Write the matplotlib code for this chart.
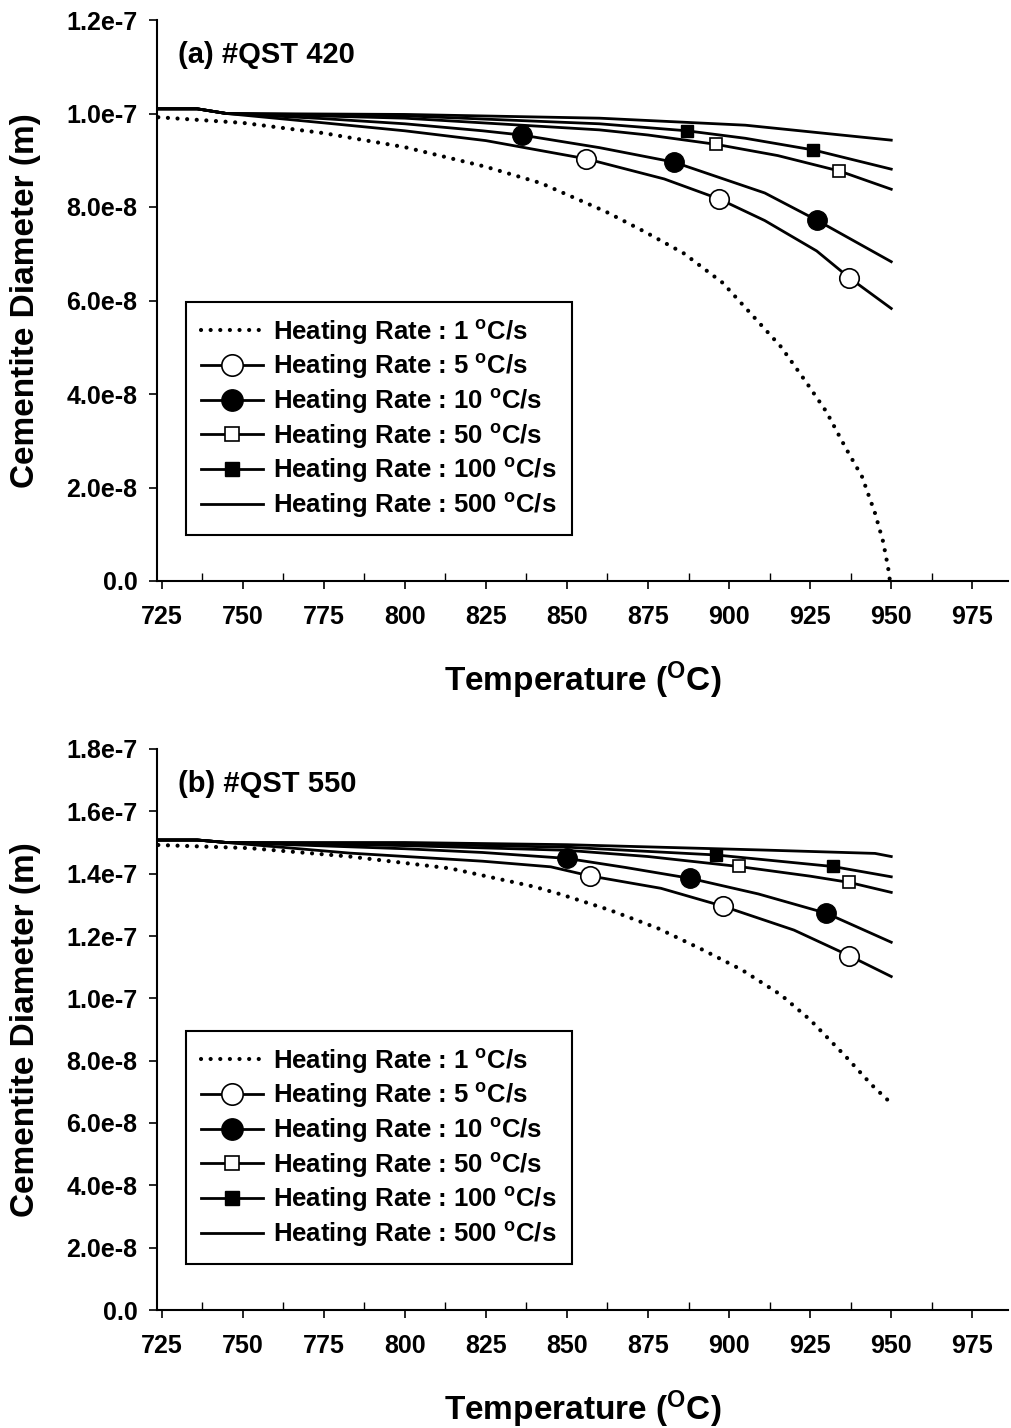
import numpy as np
import matplotlib
matplotlib.use("Agg")
import matplotlib.pyplot as plt
from matplotlib.ticker import MultipleLocator

plt.rcParams['font.family'] = ['Liberation Sans', 'DejaVu Sans']
plt.rcParams['font.weight'] = 'bold'
plt.rcParams['axes.labelweight'] = 'bold'
plt.rcParams['mathtext.default'] = 'regular'

# ---- data (diameter values in units of 1e-8 m) ----
# (a) QST 420
a_T1 = [724, 750, 775, 800, 825, 842, 862, 874, 886, 898, 908, 916, 924, 930, 936, 941, 945, 947.5, 949, 949.6]
a_V1 = [9.92, 9.80, 9.58, 9.28, 8.86, 8.51, 7.90, 7.47, 7.01, 6.38, 5.62, 5.01, 4.23, 3.62, 2.84, 2.23, 1.45, 0.84, 0.30, 0.0]
a_T5 = [724, 736, 745, 775, 800, 825, 856, 880, 897, 911, 927, 937, 950]
a_V5 = [10.10, 10.10, 10.0, 9.80, 9.63, 9.42, 9.03, 8.60, 8.17, 7.71, 7.06, 6.49, 5.83]
a_T10 = [724, 736, 745, 775, 800, 824, 836, 860, 883, 911, 927, 950]
a_V10 = [10.10, 10.10, 10.0, 9.89, 9.78, 9.63, 9.54, 9.27, 8.96, 8.30, 7.72, 6.83]
a_T50 = [724, 736, 745, 800, 860, 875, 896, 915, 934, 950]
a_V50 = [10.10, 10.10, 10.0, 9.90, 9.65, 9.54, 9.34, 9.10, 8.77, 8.38]
a_T100 = [724, 736, 745, 800, 860, 887, 905, 926, 950]
a_V100 = [10.10, 10.10, 10.0, 9.95, 9.78, 9.63, 9.47, 9.22, 8.81]
a_T500 = [724, 736, 745, 800, 860, 905, 950]
a_V500 = [10.10, 10.10, 10.0, 9.98, 9.90, 9.75, 9.43]
a_marks = {5: [6, 8, 11], 10: [6, 8, 10], 50: [6, 8], 100: [5, 7]}

# (b) QST 550
b_T1 = [724, 752, 783, 814, 840, 848, 863, 878, 892, 904, 916, 925, 936, 944, 950]
b_V1 = [14.92, 14.82, 14.55, 14.17, 13.58, 13.34, 12.84, 12.25, 11.55, 10.91, 10.11, 9.31, 8.13, 7.22, 6.63]
b_T5 = [724, 736, 745, 783, 824, 845, 857, 879, 898, 920, 937, 950]
b_V5 = [15.08, 15.08, 15.0, 14.66, 14.40, 14.22, 13.93, 13.53, 12.96, 12.19, 11.37, 10.70]
b_T10 = [724, 736, 745, 800, 824, 850, 868, 888, 909, 930, 950]
b_V10 = [15.08, 15.08, 15.0, 14.80, 14.68, 14.49, 14.20, 13.85, 13.35, 12.73, 11.80]
b_T50 = [724, 736, 745, 800, 850, 875, 903, 925, 937, 950]
b_V50 = [15.08, 15.08, 15.0, 14.90, 14.75, 14.55, 14.23, 13.92, 13.72, 13.40]
b_T100 = [724, 736, 745, 800, 850, 896, 932, 950]
b_V100 = [15.08, 15.08, 15.0, 14.95, 14.85, 14.60, 14.23, 13.90]
b_T500 = [724, 736, 745, 800, 850, 910, 945, 950]
b_V500 = [15.08, 15.08, 15.0, 15.0, 14.93, 14.76, 14.65, 14.55]
b_marks = {5: [6, 8, 10], 10: [5, 7, 9], 50: [6, 8], 100: [5, 6]}

x_ticks = [725, 750, 775, 800, 825, 850, 875, 900, 925, 950, 975]
a_yticks = [0, 2e-8, 4e-8, 6e-8, 8e-8, 1e-7, 1.2e-7]
a_ylabels = ['0.0', '2.0e-8', '4.0e-8', '6.0e-8', '8.0e-8', '1.0e-7', '1.2e-7']
b_yticks = [0, 2e-8, 4e-8, 6e-8, 8e-8, 1e-7, 1.2e-7, 1.4e-7, 1.6e-7, 1.8e-7]
b_ylabels = ['0.0', '2.0e-8', '4.0e-8', '6.0e-8', '8.0e-8', '1.0e-7', '1.2e-7', '1.4e-7', '1.6e-7', '1.8e-7']

fig = plt.figure(figsize=(10.11, 14.28), dpi=100)
ax_a = fig.add_axes([157/1011, 1 - 581/1428, 851/1011, 561/1428])
ax_b = fig.add_axes([157/1011, 1 - 1310/1428, 851/1011, 561/1428])

LW = 2.0


def draw_panel(ax, series, marks, yticks, ylabels, title):
    (T1, V1), (T5, V5), (T10, V10), (T50, V50), (T100, V100), (T500, V500) = series
    sc = 1e-8
    ax.plot(T1, np.array(V1) * sc, color='black', lw=3.0, linestyle=(0, (0.01, 2.3)),
            dash_capstyle='round', label='Heating Rate : 1 $^{o}$C/s')
    ax.plot(T5, np.array(V5) * sc, color='black', lw=LW, marker='o', ms=14, mfc='white',
            mec='black', mew=1.2, markevery=marks[5], label='Heating Rate : 5 $^{o}$C/s')
    ax.plot(T10, np.array(V10) * sc, color='black', lw=LW, marker='o', ms=14, mfc='black',
            mec='black', markevery=marks[10], label='Heating Rate : 10 $^{o}$C/s')
    ax.plot(T50, np.array(V50) * sc, color='black', lw=LW, marker='s', ms=9, mfc='white',
            mec='black', mew=1.2, markevery=marks[50], label='Heating Rate : 50 $^{o}$C/s')
    ax.plot(T100, np.array(V100) * sc, color='black', lw=LW, marker='s', ms=9, mfc='black',
            mec='black', markevery=marks[100], label='Heating Rate : 100 $^{o}$C/s')
    ax.plot(T500, np.array(V500) * sc, color='black', lw=LW, label='Heating Rate : 500 $^{o}$C/s')

    ax.set_xlim(723.6, 986)
    ax.set_ylim(yticks[0], yticks[-1])
    ax.set_xticks(x_ticks)
    ax.xaxis.set_minor_locator(MultipleLocator(12.5))
    ax.set_yticks(yticks)
    ax.set_yticklabels(ylabels)
    for s in ['top', 'right']:
        ax.spines[s].set_visible(False)
    for s in ['left', 'bottom']:
        ax.spines[s].set_linewidth(1.5)
    ax.tick_params(axis='both', which='major', direction='out', length=6, width=1.2, labelsize=18)
    ax.tick_params(axis='x', which='major', pad=11)
    ax.tick_params(axis='x', which='minor', direction='in', length=6, width=1.0)
    ax.tick_params(axis='y', which='major', pad=8)

    ax.set_xlabel('Temperature ($^{O}$C)', fontsize=24, labelpad=22)
    ax.set_ylabel('Cementite Diameter (m)', fontsize=24, labelpad=18)
    ax.text(0.025, 0.938, title, transform=ax.transAxes, fontsize=21, va='center', ha='left')

    leg = ax.legend(loc='upper left', bbox_to_anchor=(0.034, 0.497), borderaxespad=0,
                    fontsize=18.5, handlelength=2.4, handletextpad=0.4, labelspacing=0.22,
                    borderpad=0.6, markerscale=1.1, fancybox=False, framealpha=1, edgecolor='black')
    leg.get_frame().set_linewidth(1.5)


draw_panel(ax_a, [(a_T1, a_V1), (a_T5, a_V5), (a_T10, a_V10), (a_T50, a_V50), (a_T100, a_V100), (a_T500, a_V500)],
           a_marks, a_yticks, a_ylabels, '(a) #QST 420')
draw_panel(ax_b, [(b_T1, b_V1), (b_T5, b_V5), (b_T10, b_V10), (b_T50, b_V50), (b_T100, b_V100), (b_T500, b_V500)],
           b_marks, b_yticks, b_ylabels, '(b) #QST 550')

fig.savefig('out.png', dpi=100)
